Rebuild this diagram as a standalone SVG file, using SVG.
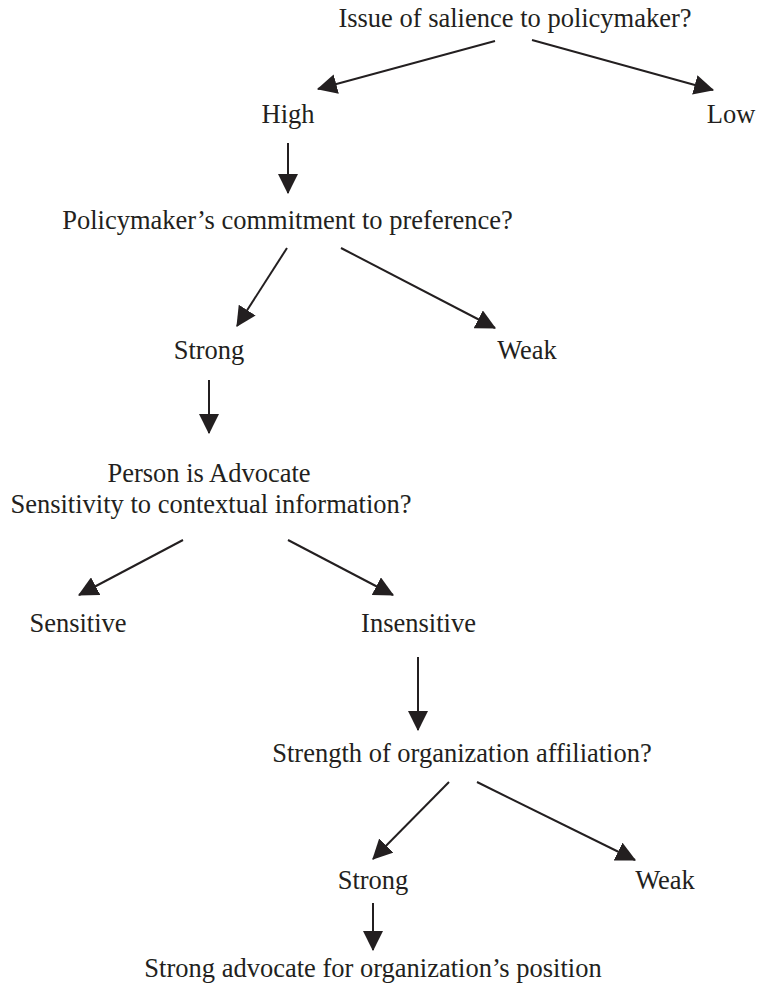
<svg xmlns="http://www.w3.org/2000/svg" width="757" height="986" viewBox="0 0 757 986">
<style>
text{font-family:"Liberation Serif","Times New Roman",serif;font-size:26.5px;fill:#231f20;text-anchor:middle}
.c line{stroke:#231f20;stroke-width:2;fill:none;marker-end:url(#ah)}
</style>
<defs>
<marker id="ah" markerUnits="userSpaceOnUse" markerWidth="20" markerHeight="20" viewBox="0 0 18 18" refX="17" refY="9" orient="auto">
<path d="M0,0 L18,9 L0,18 Z" fill="#231f20"/>
</marker>
</defs>
<rect width="757" height="986" fill="#fff"/>
<g id="n-issue"><text x="515" y="27">Issue of salience to policymaker?</text></g>
<g id="n-high"><text x="288" y="123">High</text></g>
<g id="n-low"><text x="731" y="123">Low</text></g>
<g id="n-commit"><text x="287.5" y="229">Policymaker’s commitment to preference?</text></g>
<g id="n-strong1"><text x="209" y="359">Strong</text></g>
<g id="n-weak1"><text x="527" y="359">Weak</text></g>
<g id="n-advocate"><text x="209" y="482">Person is Advocate</text><text x="211" y="513">Sensitivity to contextual information?</text></g>
<g id="n-sensitive"><text x="78" y="632">Sensitive</text></g>
<g id="n-insensitive"><text x="418.5" y="632">Insensitive</text></g>
<g id="n-affil"><text x="462" y="762">Strength of organization affiliation?</text></g>
<g id="n-strong2"><text x="373" y="889">Strong</text></g>
<g id="n-weak2"><text x="665" y="889">Weak</text></g>
<g id="n-result"><text x="373" y="977">Strong advocate for organization’s position</text></g>
<g id="connectors" class="c">
<line x1="495" y1="41" x2="318" y2="89"/>
<line x1="532" y1="40" x2="713" y2="90"/>
<line x1="288" y1="143" x2="288" y2="193"/>
<line x1="287" y1="248" x2="237" y2="326"/>
<line x1="341" y1="248" x2="495" y2="328"/>
<line x1="209" y1="380" x2="209" y2="433"/>
<line x1="183" y1="540" x2="79" y2="595"/>
<line x1="288" y1="540" x2="393" y2="595"/>
<line x1="418" y1="657" x2="418" y2="730"/>
<line x1="449" y1="782" x2="373" y2="859"/>
<line x1="477" y1="782" x2="635" y2="860"/>
<line x1="373" y1="903" x2="373" y2="950"/>
</g>
</svg>
